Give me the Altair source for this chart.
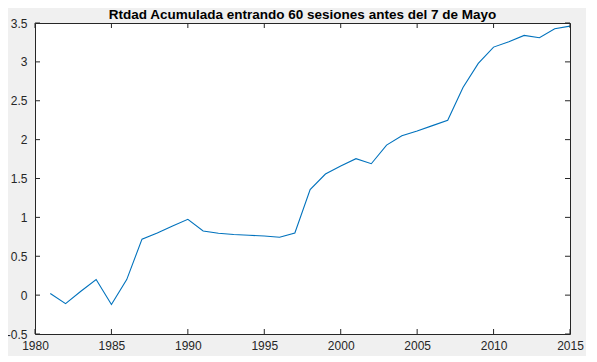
import altair as alt
import pandas as pd

years = list(range(1981, 2016))
values = [0.02, -0.11, 0.05, 0.20, -0.12, 0.20, 0.72, 0.80, 0.89, 0.975,
          0.825, 0.795, 0.78, 0.77, 0.76, 0.745, 0.80, 1.357, 1.557, 1.66,
          1.755, 1.69, 1.93, 2.05, 2.11, 2.18, 2.25, 2.67, 2.98, 3.19,
          3.26, 3.34, 3.31, 3.425, 3.46]
x_ticks = [1980, 1985, 1990, 1995, 2000, 2005, 2010, 2015]
y_ticks = [-0.5, 0, 0.5, 1, 1.5, 2, 2.5, 3, 3.5]
title = "Rtdad Acumulada entrando 60 sesiones antes del 7 de Mayo"

W, H = 535, 311
TL = 5
AX = "#262626"
FONT = "Liberation Sans"

df = pd.DataFrame({"year": years, "value": values})
xt = pd.DataFrame({"year": x_ticks})
yt = pd.DataFrame({"value": y_ticks})

xs = alt.Scale(domain=[1980, 2015], nice=False, zero=False)
ys = alt.Scale(domain=[-0.5, 3.5], nice=False, zero=False)

x_axis = alt.Axis(values=x_ticks, format="d", ticks=False, domain=False,
                  grid=False, labelPadding=6, labelFontSize=12,
                  labelColor=AX, labelFont=FONT, labelFlush=False)
y_axis = alt.Axis(values=y_ticks, labelExpr="'' + datum.value", ticks=False,
                  domain=False, grid=False, labelPadding=8, labelFontSize=12,
                  labelColor=AX, labelFont=FONT)

line = alt.Chart(df).mark_line(color="#0072BD", strokeWidth=1.1).encode(
    x=alt.X("year:Q", scale=xs, title=None, axis=x_axis),
    y=alt.Y("value:Q", scale=ys, title=None, axis=y_axis),
)

def xrule(y0, y1):
    return alt.Chart(xt).mark_rule(color=AX, strokeWidth=1).encode(
        x=alt.X("year:Q", scale=xs, title=None, axis=x_axis),
        y=alt.value(y0), y2=alt.value(y1))

def yrule(x0, x1):
    return alt.Chart(yt).mark_rule(color=AX, strokeWidth=1).encode(
        y=alt.Y("value:Q", scale=ys, title=None, axis=y_axis),
        x=alt.value(x0), x2=alt.value(x1))

chart = alt.layer(
    line,
    xrule(H, H - TL), xrule(0, TL),
    yrule(0, TL), yrule(W, W - TL),
).properties(
    width=W, height=H,
    title=alt.TitleParams(title, font=FONT, fontSize=13.5, fontWeight="bold",
                          color="#000000", anchor="middle", offset=0, dy=4),
    autosize="none",
    padding={"left": 27, "top": 15, "right": 16, "bottom": 22},
).configure(background="#f0f0f0").configure_view(
    fill="white", stroke=AX, strokeWidth=1
)

chart.save("out.html", embed_options={"renderer": "svg", "actions": False})
